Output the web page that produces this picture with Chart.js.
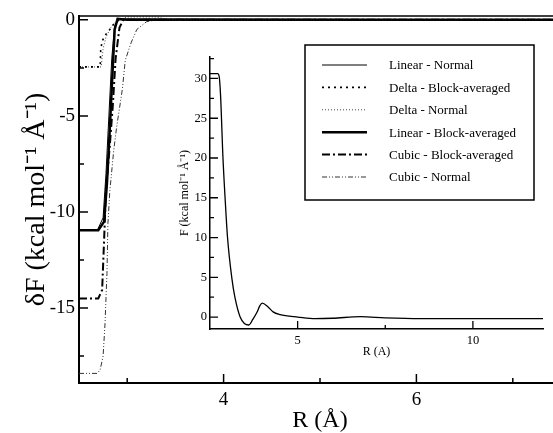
<!DOCTYPE html>
<html>
<head>
<meta charset="utf-8">
<title>Force profiles</title>
<script src="https://cdn.jsdelivr.net/npm/chart.js@4.4.0/dist/chart.umd.min.js"></script>
<style>
  html, body { margin: 0; padding: 0; background: #fff; overflow: hidden; }
  #wrap { position: relative; width: 553px; height: 433px; overflow: hidden; }
  #mainChart { position: absolute; left: 0; top: 0; }
  #insetChart { position: absolute; left: 160px; top: 40px; }
</style>
</head>
<body>
<div id="wrap">
  <canvas id="mainChart" width="565" height="433"></canvas>
  <canvas id="insetChart" width="393" height="330"></canvas>
</div>
<script>
// main panel: dF vs R, six interpolation schemes
const linearNormalR = [2.5, 2.69, 2.75, 2.78, 2.81, 2.84, 2.87, 2.92, 7.5];
const linearNormalF = [-10.95, -10.95, -10.3, -8.0, -5.0, -2.0, -0.3, 0.05, 0];
const deltaBlockR = [2.5, 2.72, 2.725, 2.74, 2.78, 2.82, 2.87, 2.92, 7.5];
const deltaBlockF = [-2.45, -2.45, -1.6, -1.1, -0.75, -0.5, -0.15, 0, 0];
const deltaNormalR = [2.5, 2.73, 2.75, 2.78, 2.83, 2.9, 3.0, 3.3, 3.45, 7.5];
const deltaNormalF = [-2.45, -2.45, -1.5, -0.9, -0.4, 0, 0.15, 0.15, 0, 0];
const linearBlockR = [2.5, 2.7, 2.76, 2.79, 2.82, 2.85, 2.87, 2.9, 3.0, 7.5];
const linearBlockF = [-10.95, -10.95, -10.5, -8.5, -5.6, -2.5, -0.5, 0.05, 0, 0];
const cubicBlockR = [2.5, 2.7, 2.74, 2.76, 2.78, 2.82, 2.85, 2.88, 2.92, 2.96, 7.5];
const cubicBlockF = [-14.5, -14.5, -14.06, -11.5, -8.85, -6.5, -4.5, -2.0, -0.4, 0, 0];
const cubicNormalR = [2.5, 2.69, 2.72, 2.75, 2.77, 2.79, 2.8, 2.82, 2.86, 2.89, 2.95, 2.98, 3.04, 3.1, 3.2, 3.3, 7.5];
const cubicNormalF = [-18.4, -18.4, -18.2, -17.5, -15.8, -13.2, -10.6, -8.9, -6.8, -5.6, -3.6, -2.1, -1.2, -0.5, -0.1, 0, 0];

// inset: F vs R
const insetR = [2.5, 2.72, 2.76, 2.8, 2.87, 2.93, 3.0, 3.12, 3.21, 3.36, 3.48, 3.61, 3.72, 3.84, 3.92, 3.99, 4.15, 4.3, 4.5, 4.7, 5.0, 5.5, 6.0, 6.8, 7.5, 8.5, 10, 12];
const insetF = [30.6, 30.6, 30.3, 28, 20, 15, 10, 5, 2.5, 0, -0.8, -1.0, -0.3, 0.6, 1.4, 1.75, 1.3, 0.65, 0.3, 0.15, 0, -0.2, -0.15, 0.05, -0.1, -0.2, -0.2, -0.2];

// ticks
const mainXMajor = [4, 6];
const mainXMinor = [3, 5, 7];
const mainYMajor = [0, -5, -10, -15];
const mainYMinor = [-2.5, -7.5, -12.5, -17.5];
const insetXMajor = [5, 10];
const insetXMinor = [7.5];
const insetYMajor = [0, 5, 10, 15, 20, 25, 30];
const insetYMinor = [2.5, 7.5, 12.5, 17.5, 22.5, 27.5, 32.5];

const SERIF = '"Liberation Serif", "Times New Roman", serif';

const toPoints = (xs, ys) => xs.map((x, i) => ({ x: x, y: ys[i] }));

function setTicks(major, minor) {
    return function(axis) {
        axis.ticks = major.map(v => ({ value: v, big: true }))
            .concat(minor.map(v => ({ value: v, big: false })))
            .sort((a, b) => a.value - b.value);
    };
}

function tickLabel(value, index, ticks) {
    return ticks[index].big ? String(value) : '';
}

// ticks pointing into the plot, plus optional top frame line
const innerTicks = {
    id: 'innerTicks',
    afterDatasetsDraw(chart, args, opts) {
        const { ctx, chartArea: a, scales: { x, y } } = chart;
        ctx.save();
        ctx.strokeStyle = '#000';
        ctx.lineWidth = opts.width || 1.5;
        ctx.beginPath();
        x.ticks.forEach(t => {
            const px = x.getPixelForValue(t.value);
            ctx.moveTo(px, a.bottom);
            ctx.lineTo(px, a.bottom - (t.big ? opts.major : opts.minor));
        });
        y.ticks.forEach(t => {
            const py = y.getPixelForValue(t.value);
            ctx.moveTo(a.left, py);
            ctx.lineTo(a.left + (t.big ? opts.major : opts.minor), py);
        });
        if (opts.topLine) {
            ctx.moveTo(a.left, a.top);
            ctx.lineTo(a.right, a.top);
        }
        ctx.stroke();
        ctx.restore();
    }
};

// legend box sitting inside the inset area
const boxLegend = {
    id: 'boxLegend',
    afterDraw(chart, args, opts) {
        const ctx = chart.ctx;
        ctx.save();
        ctx.strokeStyle = '#000';
        ctx.lineWidth = 1.5;
        ctx.strokeRect(opts.left, opts.top, opts.width, opts.height);
        ctx.font = '13px ' + SERIF;
        ctx.textBaseline = 'middle';
        ctx.fillStyle = '#000';
        chart.data.datasets.forEach((ds, i) => {
            const yy = opts.top + opts.firstRow + i * opts.rowGap;
            ctx.save();
            ctx.strokeStyle = ds.borderColor;
            ctx.lineWidth = ds.borderWidth;
            ctx.setLineDash(ds.borderDash || []);
            ctx.beginPath();
            ctx.moveTo(opts.left + 17, yy);
            ctx.lineTo(opts.left + 62, yy);
            ctx.stroke();
            ctx.restore();
            ctx.fillText(ds.label, opts.left + 84, yy + 1);
        });
        ctx.restore();
    }
};

function makeSet(label, xs, ys, width, dash, color) {
    return {
        label: label,
        data: toPoints(xs, ys),
        borderColor: color || '#000',
        borderWidth: width,
        borderDash: dash,
        showLine: true,
        pointRadius: 0,
        fill: false,
        tension: 0
    };
}

new Chart(document.getElementById('mainChart'), {
    type: 'scatter',
    data: {
        datasets: [
            makeSet('Linear - Normal', linearNormalR, linearNormalF, 1, []),
            makeSet('Delta - Block-averaged', deltaBlockR, deltaBlockF, 1.6, [2, 4]),
            makeSet('Delta - Normal', deltaNormalR, deltaNormalF, 1, [1, 2], '#444'),
            makeSet('Linear - Block-averaged', linearBlockR, linearBlockF, 2.5, []),
            makeSet('Cubic - Block-averaged', cubicBlockR, cubicBlockF, 2, [8, 3, 2, 3]),
            makeSet('Cubic - Normal', cubicNormalR, cubicNormalF, 1, [5, 2, 1, 2, 1, 2], '#333')
        ]
    },
    options: {
        responsive: false,
        animation: false,
        layout: { padding: { top: 16, right: 4, left: 0, bottom: 0 } },
        plugins: {
            legend: { display: false },
            tooltip: { enabled: false },
            innerTicks: { major: 9, minor: 5, width: 1.5, topLine: true },
            boxLegend: { left: 305, top: 45, width: 229, height: 155, firstRow: 20, rowGap: 22.4 }
        },
        scales: {
            x: {
                type: 'linear',
                min: 2.5,
                max: 7.5,
                afterFit: s => { s.height = 50; },
                afterBuildTicks: setTicks(mainXMajor, mainXMinor),
                border: { display: true, color: '#000', width: 2 },
                grid: { display: false, drawTicks: false },
                ticks: { autoSkip: false, maxRotation: 0, padding: 6, color: '#000', font: { family: SERIF, size: 19 }, callback: tickLabel },
                title: { display: true, text: 'R (Å)', color: '#000', padding: 0, font: { family: SERIF, size: 24, lineHeight: 1 } }
            },
            y: {
                type: 'linear',
                min: -18.9,
                max: 0.2,
                afterFit: s => { s.width = 79; },
                afterBuildTicks: setTicks(mainYMajor, mainYMinor),
                border: { display: true, color: '#000', width: 2 },
                grid: { display: false, drawTicks: false },
                ticks: { autoSkip: false, padding: 4, color: '#000', font: { family: SERIF, size: 19 }, callback: tickLabel },
                title: { display: true, text: 'δF (kcal mol⁻¹ Å⁻¹)', color: '#000', padding: { top: 23 }, font: { family: SERIF, size: 28, lineHeight: 1 } }
            }
        }
    },
    plugins: [innerTicks, boxLegend]
});

new Chart(document.getElementById('insetChart'), {
    type: 'scatter',
    data: {
        datasets: [{
            label: 'F',
            data: toPoints(insetR, insetF),
            borderColor: '#000',
            borderWidth: 1.3,
            showLine: true,
            pointRadius: 0,
            fill: false,
            cubicInterpolationMode: 'monotone'
        }]
    },
    options: {
        responsive: false,
        animation: false,
        layout: { padding: { top: 17, right: 10, left: 0, bottom: 0 } },
        plugins: {
            legend: { display: false },
            tooltip: { enabled: false },
            innerTicks: { major: 8, minor: 4, width: 1.3, topLine: false }
        },
        scales: {
            x: {
                type: 'linear',
                min: 2.5,
                max: 12,
                afterFit: s => { s.height = 41; },
                afterBuildTicks: setTicks(insetXMajor, insetXMinor),
                border: { display: true, color: '#000', width: 1.5 },
                grid: { display: false, drawTicks: false },
                ticks: { autoSkip: false, maxRotation: 0, padding: 4, color: '#000', font: { family: SERIF, size: 12.5 }, callback: tickLabel },
                title: { display: true, text: 'R (A)', color: '#000', padding: { bottom: 12 }, font: { family: SERIF, size: 12, lineHeight: 1 } }
            },
            y: {
                type: 'linear',
                min: -1.5,
                max: 32.7,
                afterFit: s => { s.width = 50; },
                afterBuildTicks: setTicks(insetYMajor, insetYMinor),
                border: { display: true, color: '#000', width: 1.5 },
                grid: { display: false, drawTicks: false },
                ticks: { autoSkip: false, padding: 3, color: '#000', font: { family: SERIF, size: 12.5 }, callback: tickLabel },
                title: { display: true, text: 'F (kcal mol⁻¹ Å⁻¹)', color: '#000', padding: { top: 19 }, font: { family: SERIF, size: 12, lineHeight: 1 } }
            }
        }
    },
    plugins: [innerTicks]
});
</script>
</body>
</html>
